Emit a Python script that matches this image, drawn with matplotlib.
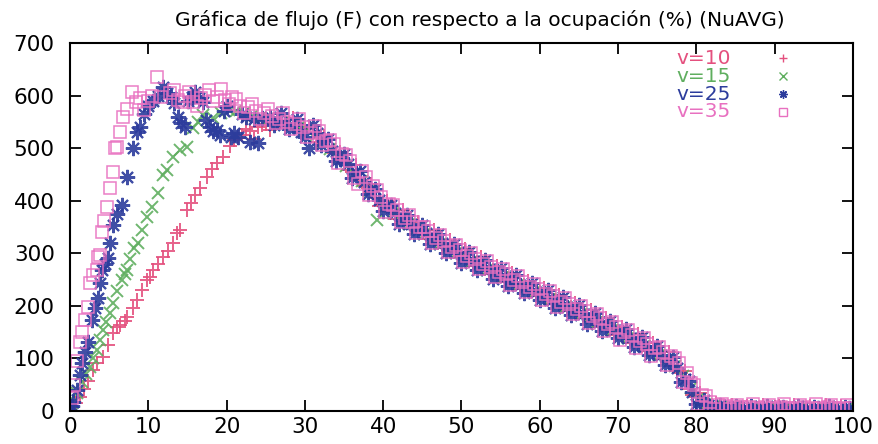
import numpy as np
import matplotlib.pyplot as plt

plt.rcParams['font.family'] = ['DejaVu Sans']

# v=10: subida inicial (ocupación, flujo)
occ_v10_sub = [0.3, 0.8, 1.3, 1.8, 2.3, 2.9, 3.5, 4.2, 4.8, 5.5, 6.0, 6.4, 7.0, 7.3,
               8.0, 8.6, 9.2, 9.8, 10.2, 10.6, 11.2, 11.9, 12.5, 13.2, 13.7, 14.0,
               14.9, 15.5, 16.0, 16.6, 17.5, 18.1, 18.8, 19.5, 20.4]
flujo_v10_sub = [8, 15, 27, 42, 58, 78, 92, 103, 125, 148, 160, 164, 172, 179,
                 195, 211, 230, 249, 255, 268, 280, 293, 305, 319, 338, 345,
                 382, 395, 410, 424, 445, 460, 471, 483, 505]
# v=10: resto de la curva, ocupación 21..100
flujo_v10_cola = [515, 525, 532, 540, 545, 548, 552, 548, 545, 536,
                  528, 520, 502, 490, 472, 455, 440, 424, 405, 392,
                  378, 372, 358, 352, 338, 333, 320, 315, 302, 297,
                  286, 283, 271, 268, 256, 253, 242, 239, 228, 226,
                  215, 212, 200, 197, 186, 182, 171, 168, 156, 152,
                  140, 136, 124, 120, 108, 102, 86, 72, 42, 27,
                  14, 11, 7, 6, 5, 6, 4, 5, 4, 6,
                  4, 5, 4, 5, 6, 4, 5, 4, 5, 4]
# ocupación 21.5..99.5
flujo_v10_cola2 = [520, 536, 518, 544, 535, 552, 538, 558, 530, 540,
                   512, 524, 494, 492, 458, 468, 428, 432, 390, 400,
                   366, 382, 348, 360, 328, 344, 310, 326, 292, 308,
                   276, 292, 260, 276, 246, 262, 232, 248, 218, 234,
                   204, 220, 190, 206, 176, 192, 160, 176, 144, 160,
                   130, 146, 114, 130, 98, 112, 76, 76, 30, 34,
                   6, 16, 4, 12, 3, 10, 4, 11, 3, 10,
                   4, 11, 3, 10, 4, 11, 3, 10, 4]

# v=15
occ_v15_sub = [0.3, 0.9, 1.5, 2.0, 2.6, 3.0, 3.4, 3.8, 4.2, 4.6, 5.1, 5.5, 6.0, 6.6,
               7.0, 7.3, 7.7, 8.2, 8.7, 9.2, 9.8, 10.5, 11.2, 11.9, 12.4, 13.2,
               14.0, 14.9, 15.7, 16.3, 17.0]
flujo_v15_sub = [15, 35, 55, 70, 84, 100, 116, 135, 154, 170, 186, 205, 228, 249,
                 260, 268, 290, 310, 319, 345, 369, 388, 414, 449, 458, 483,
                 496, 502, 538, 550, 563]
# ocupación 18.25..99.25
flujo_v15_cola = [558, 566, 572, 570, 566, 562, 558, 556, 552, 549,
                  546, 540, 534, 524, 512, 498, 482, 466, 450, 438,
                  418, 364, 388, 376, 366, 356, 346, 336, 328, 318,
                  311, 300, 294, 284, 279, 269, 264, 254, 249, 240,
                  235, 226, 222, 213, 208, 198, 193, 184, 178, 170,
                  163, 155, 147, 139, 131, 123, 115, 107, 97, 86,
                  66, 43, 22, 14, 9, 7, 5, 6, 4, 5,
                  4, 5, 5, 4, 6, 4, 5, 4, 5, 4, 5, 4]

# v=25
occ_v25_sub = [0.2, 0.4, 0.9, 1.3, 1.5, 1.9, 2.3, 2.8, 3.2, 3.6, 3.8, 4.1, 4.5, 4.9,
               5.1, 5.5, 6.0, 6.6, 7.3, 8.0, 8.5, 8.9, 9.5, 10.0, 10.6, 11.2, 11.9,
               12.4, 12.9, 13.3, 13.8, 14.2, 14.7, 15.1, 15.6, 16.0, 16.5, 17.0,
               17.4, 17.9, 18.3, 18.8, 19.2, 19.7, 20.1, 20.6, 21.0, 21.5, 22.0,
               22.5, 23.0, 23.5, 24.0, 24.5]
flujo_v25_sub = [10, 17, 40, 68, 91, 112, 131, 173, 196, 215, 243, 268, 280, 291,
                 319, 353, 375, 391, 445, 500, 530, 540, 565, 580, 590, 600, 616,
                 605, 598, 585, 560, 548, 540, 590, 598, 607, 595, 588,
                 553, 540, 532, 534, 525, 570, 580, 522, 528, 521, 565,
                 560, 512, 555, 509, 558]
# ocupación 25.5..99.5
flujo_v25_cola = [560, 552, 548, 544, 530, 500, 528, 515, 495, 480,
                  470, 452, 436, 420, 402, 390, 376, 364, 356, 344,
                  338, 327, 320, 309, 302, 291, 285, 276, 270, 261,
                  255, 246, 240, 232, 226, 219, 211, 206, 198, 191,
                  184, 176, 170, 161, 155, 146, 139, 130, 124, 115,
                  106, 96, 82, 60, 36, 18, 12, 9, 7, 5,
                  5, 4, 6, 5, 4, 5, 4, 6, 5, 4, 5, 4, 5, 4, 5]
# ocupación 26..99
flujo_v25_cola2 = [544, 566, 536, 556, 522, 544, 506, 518, 476, 488,
                   444, 456, 412, 422, 380, 392, 356, 373, 336, 354,
                   318, 336, 300, 318, 282, 302, 268, 287, 252, 272,
                   238, 258, 224, 244, 212, 230, 196, 216, 182, 202,
                   166, 186, 152, 172, 138, 156, 122, 140, 106, 124,
                   88, 102, 56, 58, 14, 20, 5, 12, 3, 9,
                   3, 9, 4, 10, 3, 8, 4, 10, 3, 8, 4, 9, 3, 8]

# v=35
occ_v35_sub = [0.2, 0.5, 0.9, 1.3, 1.6, 1.9, 2.3, 2.6, 3.0, 3.4, 3.6, 3.8, 4.1, 4.4,
               4.7, 5.1, 5.5, 5.8, 6.0, 6.4, 6.8, 7.3, 7.9, 8.4, 8.9, 9.4, 10.0,
               10.5, 11.1, 11.6]
flujo_v35_sub = [25, 50, 95, 131, 150, 173, 198, 243, 258, 268, 293, 297, 340, 362,
                 388, 424, 454, 500, 502, 530, 559, 575, 607, 588, 595, 572, 590,
                 600, 635, 598]
# ocupación 12.75..99.75
flujo_v35_cola = [605, 592, 600, 588, 596, 610, 598, 592, 597, 580,
                  578, 570, 566, 562, 556, 550, 546, 540, 528, 532,
                  514, 508, 488, 476, 432, 446, 428, 408, 394, 382,
                  368, 360, 350, 342, 330, 324, 312, 306, 295, 290,
                  280, 274, 265, 260, 250, 246, 236, 232, 222, 219,
                  208, 204, 194, 190, 180, 176, 166, 160, 150, 145,
                  134, 128, 120, 112, 104, 92, 72, 50, 30, 18,
                  12, 10, 8, 7, 8, 6, 7, 6, 7, 6,
                  6, 7, 6, 5, 7, 6, 5, 6]
# ocupación 13.25..99.25
flujo_v35_cola2 = [610, 588, 606, 580, 602, 590, 612, 584, 594, 566,
                   584, 556, 575, 548, 566, 536, 555, 522, 542, 506,
                   516, 472, 486, 444, 456, 410, 420, 378, 392, 360,
                   372, 338, 350, 320, 334, 302, 316, 284, 300, 270,
                   285, 254, 270, 240, 256, 226, 242, 212, 229, 198,
                   214, 184, 200, 168, 185, 152, 170, 136, 154, 120,
                   138, 104, 122, 88, 100, 56, 54, 14, 28, 4,
                   14, 3, 12, 4, 13, 3, 12, 4, 13, 3,
                   12, 4, 13, 3, 12, 4, 12]

series = [
    ('v=10', occ_v10_sub, flujo_v10_sub,
     [(21.0, flujo_v10_cola), (21.5, flujo_v10_cola2)],
     dict(marker='+', ms=10, mew=1.4), '#e4507e'),
    ('v=15', occ_v15_sub, flujo_v15_sub,
     [(18.25, flujo_v15_cola)],
     dict(marker='x', ms=8, mew=1.4), '#5fae5f'),
    ('v=25', occ_v25_sub, flujo_v25_sub,
     [(25.5, flujo_v25_cola), (26.0, flujo_v25_cola2)],
     dict(marker=(8, 2, 0), ms=11, mew=1.5), '#2c3c9c'),
    ('v=35', occ_v35_sub, flujo_v35_sub,
     [(12.75, flujo_v35_cola), (13.25, flujo_v35_cola2)],
     dict(marker='s', ms=8, mew=1.1, mfc='none'), '#e870c0'),
]

fig = plt.figure(figsize=(8.79, 4.44), dpi=100)
ax = fig.add_axes([0.0796, 0.0743, 0.8908, 0.8289])

for nombre, occ_s, flujo_s, colas, estilo, color in series:
    occ = list(occ_s)
    flujo = list(flujo_s)
    for inicio, cola in colas:
        occ += list(inicio + np.arange(len(cola)))
        flujo += cola
    ax.plot(occ, flujo, ls='none', color=color, mec=color, alpha=0.9, **estilo)

ax.set_xlim(0, 100)
ax.set_ylim(0, 700)
ax.set_xticks(np.arange(0, 101, 10))
ax.set_yticks(np.arange(0, 701, 100))
ax.tick_params(direction='in', length=8, width=1.3, labelsize=15.5,
               top=True, right=True)
ax.tick_params(axis='y', pad=11)
ax.tick_params(axis='x', pad=4)
for sp in ax.spines.values():
    sp.set_linewidth(1.5)

ax.set_title('Gráfica de flujo (F) con respecto a la ocupación (%) (NuAVG)',
             fontsize=14.5, pad=12, x=0.5236)

# leyenda al estilo gnuplot: texto a la izquierda, muestra a la derecha
filas_y = [0.959, 0.910, 0.861, 0.8125]
for (nombre, _, _, _, estilo, color), fy in zip(series, filas_y):
    ax.text(0.844, fy, nombre, transform=ax.transAxes, ha='right', va='center',
            fontsize=14.5, color=color)
    muestra = dict(estilo)
    muestra['ms'] = 6
    muestra['mew'] = 1.0
    ax.plot([0.9106], [fy], ls='none', color=color, mec=color,
            transform=ax.transAxes, clip_on=False, **muestra)

fig.savefig('out.png', dpi=100)
